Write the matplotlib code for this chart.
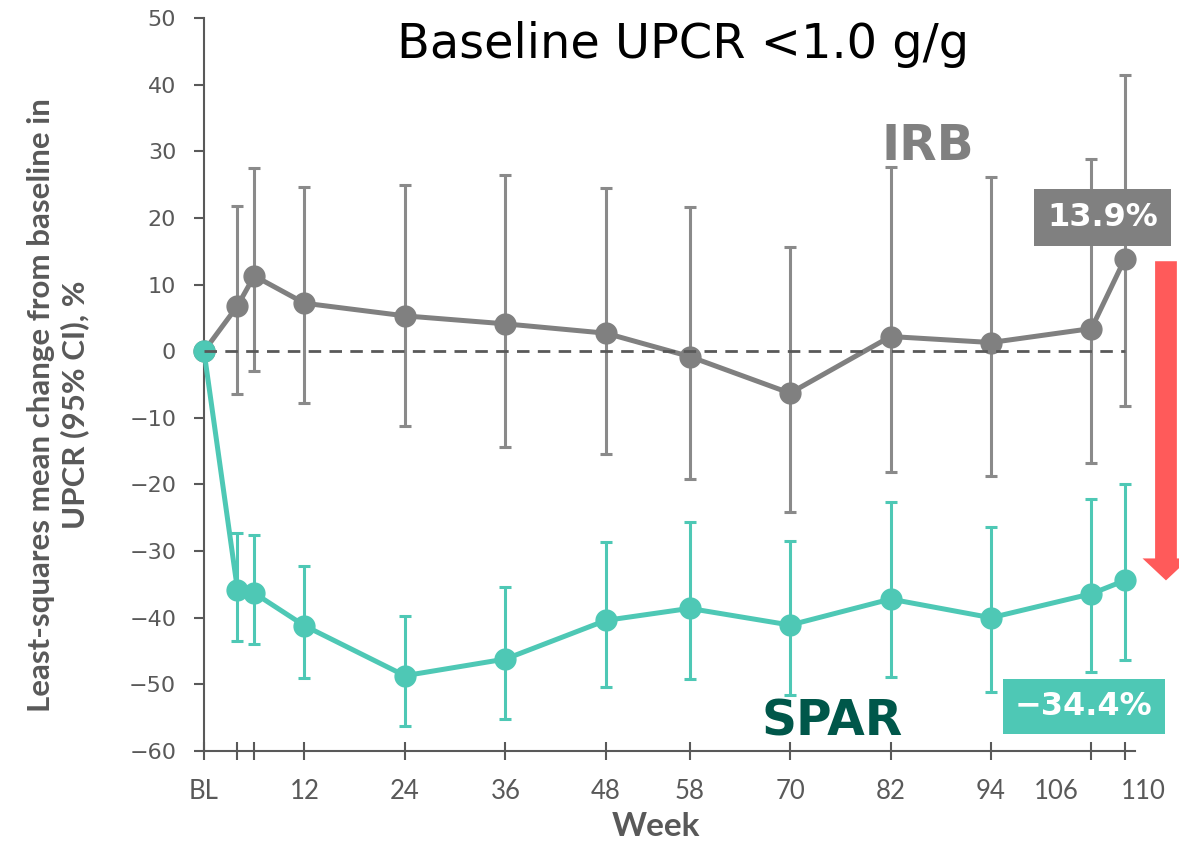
import numpy as np
import matplotlib
matplotlib.use("Agg")
import matplotlib.pyplot as plt
from matplotlib.patches import FancyArrow
from matplotlib.transforms import ScaledTranslation

# Week of visit, baseline = 0
weeks = np.array([0, 4, 6, 12, 24, 36, 48, 58, 70, 82, 94, 106, 110])
tick_labels = ["BL", "", "", "12", "24", "36", "48", "58", "70", "82", "94", "106", "110"]

# Irbesartan (IRB): LS mean change and 95% CI
irb_mean = np.array([0, 6.8, 11.3, 7.2, 5.3, 4.1, 2.7, -0.8, -6.3, 2.2, 1.3, 3.4, 13.9])
irb_lo = np.array([0, -6.5, -3.0, -7.8, -11.2, -14.4, -15.5, -19.2, -24.2, -18.2, -18.7, -16.8, -8.3])
irb_hi = np.array([0, 21.8, 27.5, 24.7, 25.0, 26.4, 24.5, 21.6, 15.7, 27.7, 26.1, 28.9, 41.4])

# Sparsentan (SPAR)
spar_mean = np.array([0, -35.8, -36.3, -41.2, -48.7, -46.2, -40.4, -38.6, -41.1, -37.2, -40.0, -36.4, -34.4])
spar_lo = np.array([0, -43.5, -44.0, -49.0, -56.3, -55.2, -50.4, -49.2, -51.6, -48.9, -51.1, -48.1, -46.3])
spar_hi = np.array([0, -27.3, -27.6, -32.2, -39.7, -35.4, -28.7, -25.7, -28.5, -22.6, -26.4, -22.2, -20.0])

GRAY = "#808080"
TEAL = "#4EC8B5"
DARK_GREEN = "#00574A"
AXIS_GRAY = "#595959"
RED = "#FF5A5A"

fig = plt.figure(figsize=(11.79, 8.44), dpi=100)
ax = fig.add_axes([204 / 1179, 1 - 751 / 844, (1135 - 204) / 1179, (751 - 18) / 844])

# error bars (skip baseline)
ax.errorbar(weeks[1:], irb_mean[1:], yerr=[irb_mean[1:] - irb_lo[1:], irb_hi[1:] - irb_mean[1:]],
            fmt="none", ecolor="#8A8A8A", elinewidth=2.2, capsize=4.3, capthick=2.2,
            zorder=2, clip_on=False)
ax.plot(weeks, irb_mean, color=GRAY, lw=3.6, marker="o", ms=15, zorder=3, clip_on=False)

ax.errorbar(weeks[1:], spar_mean[1:], yerr=[spar_mean[1:] - spar_lo[1:], spar_hi[1:] - spar_mean[1:]],
            fmt="none", ecolor=TEAL, elinewidth=2.2, capsize=4.3, capthick=2.2,
            zorder=4, clip_on=False)
ax.plot(weeks, spar_mean, color=TEAL, lw=3.6, marker="o", ms=15, zorder=5, clip_on=False)

# zero reference line
ax.hlines(0, weeks[0], weeks[-1], colors=AXIS_GRAY, linestyles=(0, (4.5, 3)), lw=2.0, zorder=6)

ax.set_xlim(0, 111.2)
ax.set_ylim(-60, 50)
ax.set_yticks(np.arange(-60, 51, 10))
ax.set_xticks(weeks)
ax.set_xticklabels(tick_labels)

for s in ["top", "right"]:
    ax.spines[s].set_visible(False)
for s in ["left", "bottom"]:
    ax.spines[s].set_color(AXIS_GRAY)
    ax.spines[s].set_linewidth(1.5)

ax.tick_params(axis="y", direction="out", length=7, width=1.5, color=AXIS_GRAY,
               labelcolor=AXIS_GRAY, labelsize=16, pad=13)
ax.tick_params(axis="x", direction="inout", length=13, width=1.5, color=AXIS_GRAY,
               labelcolor=AXIS_GRAY, labelsize=18.5, pad=14)
for lab in ax.get_xticklabels():
    lab.set_family("Lato")
for lab in ax.get_yticklabels():
    lab.set_family("DejaVu Sans")

# the last two week labels are spread apart
xt = ax.get_xticklabels()
xt[-2].set_transform(xt[-2].get_transform() + ScaledTranslation(-0.35, 0, fig.dpi_scale_trans))
xt[-1].set_transform(xt[-1].get_transform() + ScaledTranslation(0.18, 0, fig.dpi_scale_trans))

ax.set_xlabel("Week", fontsize=24, fontweight="bold", color=AXIS_GRAY, family="Lato")
ax.xaxis.set_label_coords((656 - 204) / 931, (751 - 812) / 733)
fig.text(58 / 1179, 1 - 405 / 844, "Least-squares mean change from baseline in\nUPCR (95% CI), %",
         rotation=90, ha="center", va="center", multialignment="center",
         fontsize=22.5, fontweight="bold", color=AXIS_GRAY, family="Lato", linespacing=1.25)

fig.text(683 / 1179, 1 - 58 / 844, "Baseline UPCR <1.0 g/g", ha="center", va="baseline",
         fontsize=34.5, color="black", family="DejaVu Sans")

# series labels
ax.text(86.4, 28.7, "IRB", ha="center", va="baseline", fontsize=35, fontweight="bold", color=GRAY)
ax.text(75.0, -57.6, "SPAR", ha="center", va="baseline", fontsize=35, fontweight="bold", color=DARK_GREEN)

# end-value boxes
ax.text(107.3, 20.1, f"{irb_mean[-1]:.1f}%", ha="center", va="center", fontsize=23,
        fontweight="bold", color="white", zorder=8, clip_on=False,
        bbox=dict(boxstyle="square,pad=0.4", fc=GRAY, ec="none"))
ax.text(105.1, -53.3, f"\u2212{abs(spar_mean[-1]):.1f}%", ha="center", va="center", fontsize=23,
        fontweight="bold", color="white", zorder=8, clip_on=False,
        bbox=dict(boxstyle="square,pad=0.38", fc=TEAL, ec="none"))

# red arrow showing the difference at the final week
arrow = FancyArrow(114.9, irb_mean[-1] - 0.4, 0, spar_mean[-1] - irb_mean[-1] + 0.4,
                   width=2.6, head_width=5.6, head_length=3.3, length_includes_head=True,
                   color=RED, ec="none", clip_on=False, zorder=7)
ax.add_patch(arrow)

fig.savefig("out.png", dpi=100, facecolor="white")
